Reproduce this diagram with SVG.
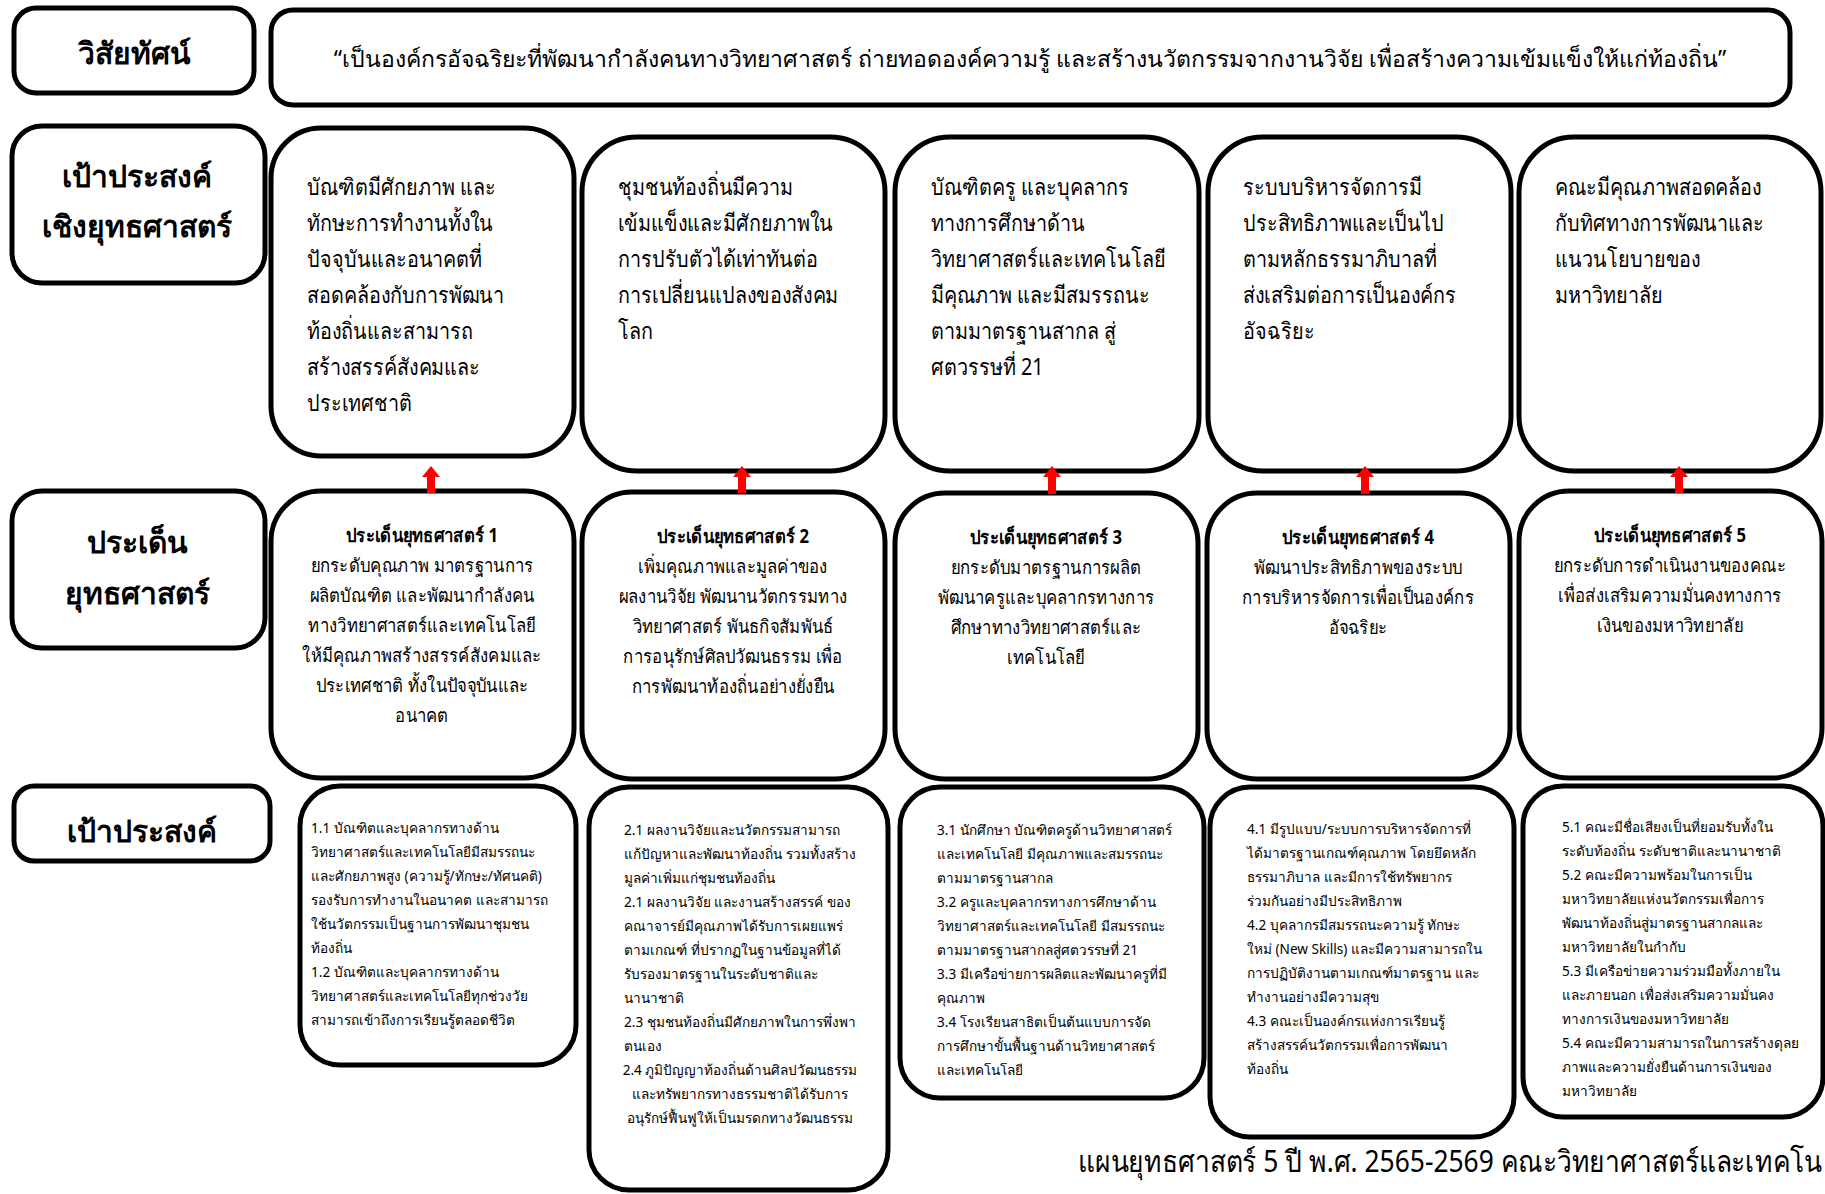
<svg xmlns="http://www.w3.org/2000/svg" width="1825" height="1194" viewBox="0 0 1825 1194">
<style>
.bg{fill:#fff}
.box{fill:#fff;stroke:#000;stroke-width:5}
text{font-family:"Noto Sans","DejaVu Sans",sans-serif;fill:#000;dominant-baseline:central}
.lbl{font-size:30px;font-weight:bold;text-anchor:middle}
.vis{font-size:23px;text-anchor:middle}
.t2{font-size:23px}
.t3{font-size:19px;text-anchor:middle}
.t3b{font-weight:bold}
.t4{font-size:13.6px}
.c{text-anchor:middle}
.foot{font-size:30px}
.arr{fill:#ff0000}
</style>
<rect class="bg" x="0" y="0" width="1825" height="1194"/>

<g id="label-vision">
<rect class="box" x="14" y="8" width="240" height="85" rx="22"/>
<text class="lbl" x="134" y="52">วิสัยทัศน์</text>
</g>
<g id="vision">
<rect class="box" x="271" y="10" width="1519" height="95" rx="22"/>
<text class="vis" x="1030" y="58">“เป็นองค์กรอัจฉริยะที่พัฒนากำลังคนทางวิทยาศาสตร์ ถ่ายทอดองค์ความรู้ และสร้างนวัตกรรมจากงานวิจัย เพื่อสร้างความเข้มแข็งให้แก่ท้องถิ่น”</text>
</g>

<g id="label-goal">
<rect class="box" x="12" y="126" width="253" height="157" rx="30"/>
<text class="lbl" x="137" y="175">เป้าประสงค์</text>
<text class="lbl" x="137" y="225">เชิงยุทธศาสตร์</text>
</g>

<g id="goal-1">
<rect class="box" x="271" y="128" width="303" height="328" rx="50"/>
<g transform="translate(307 0) scale(0.86 1)"><text class="t2"><tspan x="0" y="185">บัณฑิตมีศักยภาพ และ</tspan><tspan x="0" y="221">ทักษะการทำงานทั้งใน</tspan><tspan x="0" y="257">ปัจจุบันและอนาคตที่</tspan><tspan x="0" y="293">สอดคล้องกับการพัฒนา</tspan><tspan x="0" y="329">ท้องถิ่นและสามารถ</tspan><tspan x="0" y="365">สร้างสรรค์สังคมและ</tspan><tspan x="0" y="401">ประเทศชาติ</tspan></text></g>
</g>
<g id="goal-2">
<rect class="box" x="582" y="137" width="303" height="334" rx="55"/>
<g transform="translate(618 0) scale(0.86 1)"><text class="t2"><tspan x="0" y="185">ชุมชนท้องถิ่นมีความ</tspan><tspan x="0" y="221">เข้มแข็งและมีศักยภาพใน</tspan><tspan x="0" y="257">การปรับตัวได้เท่าทันต่อ</tspan><tspan x="0" y="293">การเปลี่ยนแปลงของสังคม</tspan><tspan x="0" y="329">โลก</tspan></text></g>
</g>
<g id="goal-3">
<rect class="box" x="895" y="137" width="304" height="334" rx="55"/>
<g transform="translate(931 0) scale(0.86 1)"><text class="t2"><tspan x="0" y="185">บัณฑิตครู และบุคลากร</tspan><tspan x="0" y="221">ทางการศึกษาด้าน</tspan><tspan x="0" y="257">วิทยาศาสตร์และเทคโนโลยี</tspan><tspan x="0" y="293">มีคุณภาพ และมีสมรรถนะ</tspan><tspan x="0" y="329">ตามมาตรฐานสากล สู่</tspan><tspan x="0" y="365">ศตวรรษที่ 21</tspan></text></g>
</g>
<g id="goal-4">
<rect class="box" x="1208" y="137" width="303" height="334" rx="55"/>
<g transform="translate(1243 0) scale(0.86 1)"><text class="t2"><tspan x="0" y="185">ระบบบริหารจัดการมี</tspan><tspan x="0" y="221">ประสิทธิภาพและเป็นไป</tspan><tspan x="0" y="257">ตามหลักธรรมาภิบาลที่</tspan><tspan x="0" y="293">ส่งเสริมต่อการเป็นองค์กร</tspan><tspan x="0" y="329">อัจฉริยะ</tspan></text></g>
</g>
<g id="goal-5">
<rect class="box" x="1519" y="137" width="302" height="334" rx="55"/>
<g transform="translate(1555 0) scale(0.86 1)"><text class="t2"><tspan x="0" y="185">คณะมีคุณภาพสอดคล้อง</tspan><tspan x="0" y="221">กับทิศทางการพัฒนาและ</tspan><tspan x="0" y="257">แนวนโยบายของ</tspan><tspan x="0" y="293">มหาวิทยาลัย</tspan></text></g>
</g>

<g id="label-issue">
<rect class="box" x="12" y="491" width="253" height="157" rx="30"/>
<text class="lbl" x="137" y="541">ประเด็น</text>
<text class="lbl" x="137" y="592">ยุทธศาสตร์</text>
</g>

<g id="issue-1">
<rect class="box" x="271" y="491" width="303" height="287" rx="50"/>
<g transform="translate(422 0) scale(0.88 1)"><text class="t3"><tspan class="t3b" x="0" y="535">ประเด็นยุทธศาสตร์ 1</tspan><tspan x="0" y="565">ยกระดับคุณภาพ มาตรฐานการ</tspan><tspan x="0" y="595">ผลิตบัณฑิต และพัฒนากำลังคน</tspan><tspan x="0" y="625">ทางวิทยาศาสตร์และเทคโนโลยี</tspan><tspan x="0" y="655">ให้มีคุณภาพสร้างสรรค์สังคมและ</tspan><tspan x="0" y="685">ประเทศชาติ ทั้งในปัจจุบันและ</tspan><tspan x="0" y="715">อนาคต</tspan></text></g>
</g>
<g id="issue-2">
<rect class="box" x="582" y="492" width="303" height="287" rx="50"/>
<g transform="translate(733 0) scale(0.88 1)"><text class="t3"><tspan class="t3b" x="0" y="536">ประเด็นยุทธศาสตร์ 2</tspan><tspan x="0" y="566">เพิ่มคุณภาพและมูลค่าของ</tspan><tspan x="0" y="596">ผลงานวิจัย พัฒนานวัตกรรมทาง</tspan><tspan x="0" y="626">วิทยาศาสตร์ พันธกิจสัมพันธ์</tspan><tspan x="0" y="656">การอนุรักษ์ศิลปวัฒนธรรม เพื่อ</tspan><tspan x="0" y="686">การพัฒนาท้องถิ่นอย่างยั่งยืน</tspan></text></g>
</g>
<g id="issue-3">
<rect class="box" x="895" y="493" width="303" height="286" rx="50"/>
<g transform="translate(1046 0) scale(0.88 1)"><text class="t3"><tspan class="t3b" x="0" y="537">ประเด็นยุทธศาสตร์ 3</tspan><tspan x="0" y="567">ยกระดับมาตรฐานการผลิต</tspan><tspan x="0" y="597">พัฒนาครูและบุคลากรทางการ</tspan><tspan x="0" y="627">ศึกษาทางวิทยาศาสตร์และ</tspan><tspan x="0" y="657">เทคโนโลยี</tspan></text></g>
</g>
<g id="issue-4">
<rect class="box" x="1207" y="493" width="303" height="286" rx="50"/>
<g transform="translate(1358 0) scale(0.88 1)"><text class="t3"><tspan class="t3b" x="0" y="537">ประเด็นยุทธศาสตร์ 4</tspan><tspan x="0" y="567">พัฒนาประสิทธิภาพของระบบ</tspan><tspan x="0" y="597">การบริหารจัดการเพื่อเป็นองค์กร</tspan><tspan x="0" y="627">อัจฉริยะ</tspan></text></g>
</g>
<g id="issue-5">
<rect class="box" x="1519" y="491" width="303" height="287" rx="50"/>
<g transform="translate(1670 0) scale(0.88 1)"><text class="t3"><tspan class="t3b" x="0" y="535">ประเด็นยุทธศาสตร์ 5</tspan><tspan x="0" y="565">ยกระดับการดำเนินงานของคณะ</tspan><tspan x="0" y="595">เพื่อส่งเสริมความมั่นคงทางการ</tspan><tspan x="0" y="625">เงินของมหาวิทยาลัย</tspan></text></g>
</g>

<g id="label-objective">
<rect class="box" x="14" y="786" width="256" height="75" rx="20"/>
<text class="lbl" x="142" y="830">เป้าประสงค์</text>
</g>

<g id="objective-1">
<rect class="box" x="300" y="786" width="276" height="279" rx="40"/>
<text class="t4"><tspan x="311" y="827">1.1 บัณฑิตและบุคลากรทางด้าน</tspan><tspan x="311" y="851">วิทยาศาสตร์และเทคโนโลยีมีสมรรถนะ</tspan><tspan x="311" y="875">และศักยภาพสูง (ความรู้/ทักษะ/ทัศนคติ)</tspan><tspan x="311" y="899">รองรับการทำงานในอนาคต และสามารถ</tspan><tspan x="311" y="923">ใช้นวัตกรรมเป็นฐานการพัฒนาชุมชน</tspan><tspan x="311" y="947">ท้องถิ่น</tspan><tspan x="311" y="971">1.2 บัณฑิตและบุคลากรทางด้าน</tspan><tspan x="311" y="995">วิทยาศาสตร์และเทคโนโลยีทุกช่วงวัย</tspan><tspan x="311" y="1019">สามารถเข้าถึงการเรียนรู้ตลอดชีวิต</tspan></text>
</g>
<g id="objective-2">
<rect class="box" x="589" y="787" width="299" height="403" rx="40"/>
<text class="t4"><tspan x="624" y="829">2.1 ผลงานวิจัยและนวัตกรรมสามารถ</tspan><tspan x="624" y="853">แก้ปัญหาและพัฒนาท้องถิ่น รวมทั้งสร้าง</tspan><tspan x="624" y="877">มูลค่าเพิ่มแก่ชุมชนท้องถิ่น</tspan><tspan x="624" y="901">2.1 ผลงานวิจัย และงานสร้างสรรค์ ของ</tspan><tspan x="624" y="925">คณาจารย์มีคุณภาพได้รับการเผยแพร่</tspan><tspan x="624" y="949">ตามเกณฑ์ ที่ปรากฏในฐานข้อมูลที่ได้</tspan><tspan x="624" y="973">รับรองมาตรฐานในระดับชาติและ</tspan><tspan x="624" y="997">นานาชาติ</tspan><tspan x="624" y="1021">2.3 ชุมชนท้องถิ่นมีศักยภาพในการพึ่งพา</tspan><tspan x="624" y="1045">ตนเอง</tspan><tspan class="c" x="740" y="1069">2.4 ภูมิปัญญาท้องถิ่นด้านศิลปวัฒนธรรม</tspan><tspan class="c" x="740" y="1093">และทรัพยากรทางธรรมชาติได้รับการ</tspan><tspan class="c" x="740" y="1117">อนุรักษ์ฟื้นฟูให้เป็นมรดกทางวัฒนธรรม</tspan></text>
</g>
<g id="objective-3">
<rect class="box" x="900" y="787" width="304" height="311" rx="40"/>
<text class="t4"><tspan x="937" y="829">3.1 นักศึกษา บัณฑิตครูด้านวิทยาศาสตร์</tspan><tspan x="937" y="853">และเทคโนโลยี มีคุณภาพและสมรรถนะ</tspan><tspan x="937" y="877">ตามมาตรฐานสากล</tspan><tspan x="937" y="901">3.2 ครูและบุคลากรทางการศึกษาด้าน</tspan><tspan x="937" y="925">วิทยาศาสตร์และเทคโนโลยี มีสมรรถนะ</tspan><tspan x="937" y="949">ตามมาตรฐานสากลสู่ศตวรรษที่ 21</tspan><tspan x="937" y="973">3.3 มีเครือข่ายการผลิตและพัฒนาครูที่มี</tspan><tspan x="937" y="997">คุณภาพ</tspan><tspan x="937" y="1021">3.4 โรงเรียนสาธิตเป็นต้นแบบการจัด</tspan><tspan x="937" y="1045">การศึกษาขั้นพื้นฐานด้านวิทยาศาสตร์</tspan><tspan x="937" y="1069">และเทคโนโลยี</tspan></text>
</g>
<g id="objective-4">
<rect class="box" x="1210" y="787" width="304" height="350" rx="40"/>
<text class="t4"><tspan x="1247" y="828">4.1 มีรูปแบบ/ระบบการบริหารจัดการที่</tspan><tspan x="1247" y="852">ได้มาตรฐานเกณฑ์คุณภาพ โดยยึดหลัก</tspan><tspan x="1247" y="876">ธรรมาภิบาล และมีการใช้ทรัพยากร</tspan><tspan x="1247" y="900">ร่วมกันอย่างมีประสิทธิภาพ</tspan><tspan x="1247" y="924">4.2 บุคลากรมีสมรรถนะความรู้ ทักษะ</tspan><tspan x="1247" y="948">ใหม่ (New Skills) และมีความสามารถใน</tspan><tspan x="1247" y="972">การปฏิบัติงานตามเกณฑ์มาตรฐาน และ</tspan><tspan x="1247" y="996">ทำงานอย่างมีความสุข</tspan><tspan x="1247" y="1020">4.3 คณะเป็นองค์กรแห่งการเรียนรู้</tspan><tspan x="1247" y="1044">สร้างสรรค์นวัตกรรมเพื่อการพัฒนา</tspan><tspan x="1247" y="1068">ท้องถิ่น</tspan></text>
</g>
<g id="objective-5">
<rect class="box" x="1523" y="786" width="300" height="331" rx="40"/>
<text class="t4"><tspan x="1562" y="826">5.1 คณะมีชื่อเสียงเป็นที่ยอมรับทั้งใน</tspan><tspan x="1562" y="850">ระดับท้องถิ่น ระดับชาติและนานาชาติ</tspan><tspan x="1562" y="874">5.2 คณะมีความพร้อมในการเป็น</tspan><tspan x="1562" y="898">มหาวิทยาลัยแห่งนวัตกรรมเพื่อการ</tspan><tspan x="1562" y="922">พัฒนาท้องถิ่นสู่มาตรฐานสากลและ</tspan><tspan x="1562" y="946">มหาวิทยาลัยในกำกับ</tspan><tspan x="1562" y="970">5.3 มีเครือข่ายความร่วมมือทั้งภายใน</tspan><tspan x="1562" y="994">และภายนอก เพื่อส่งเสริมความมั่นคง</tspan><tspan x="1562" y="1018">ทางการเงินของมหาวิทยาลัย</tspan><tspan x="1562" y="1042">5.4 คณะมีความสามารถในการสร้างดุลย</tspan><tspan x="1562" y="1066">ภาพและความยั่งยืนด้านการเงินของ</tspan><tspan x="1562" y="1090">มหาวิทยาลัย</tspan></text>
</g>

<g id="connectors">
<path class="arr" d="M431,466 L440,477 L435,477 L435,493 L427,493 L427,477 L422,477 Z"/>
<path class="arr" d="M742,466 L751,477 L746,477 L746,493 L738,493 L738,477 L733,477 Z"/>
<path class="arr" d="M1052,466 L1061,477 L1056,477 L1056,494 L1048,494 L1048,477 L1043,477 Z"/>
<path class="arr" d="M1365,466 L1374,477 L1369,477 L1369,494 L1361,494 L1361,477 L1356,477 Z"/>
<path class="arr" d="M1679,466 L1688,477 L1683,477 L1683,493 L1675,493 L1675,477 L1670,477 Z"/>
</g>

<g transform="translate(1078 1160) scale(0.88 1)"><text class="foot" x="0" y="0">แผนยุทธศาสตร์ 5 ปี พ.ศ. 2565-2569 คณะวิทยาศาสตร์และเทคโน</text></g>
</svg>
